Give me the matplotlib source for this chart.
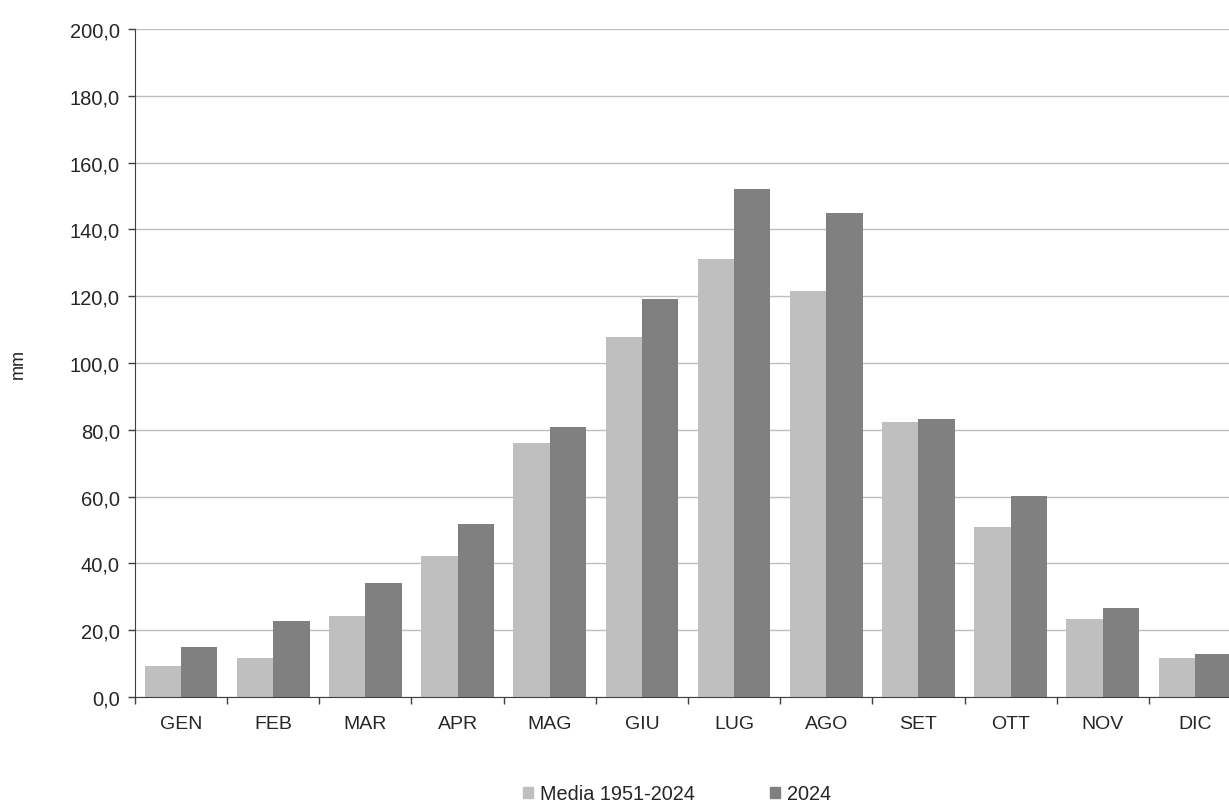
import matplotlib.pyplot as plt
from matplotlib.ticker import FuncFormatter, MultipleLocator
from matplotlib.patches import Patch
import numpy as np

plt.rcParams['font.family'] = ['Liberation Sans', 'DejaVu Sans']

# dati (mm)
mesi = ['GEN', 'FEB', 'MAR', 'APR', 'MAG', 'GIU', 'LUG', 'AGO', 'SET', 'OTT', 'NOV', 'DIC']
media = [9.4, 11.8, 24.3, 42.2, 76.0, 107.8, 131.0, 121.5, 82.3, 51.0, 23.5, 11.7]
anno_2024 = [15.0, 22.8, 34.2, 51.8, 80.8, 119.2, 152.2, 144.8, 83.2, 60.3, 26.5, 12.9]
etichette = ['Media 1951-2024', '2024']

col_media = '#bfbfbf'
col_2024 = '#808080'
col_testo = '#262626'

fig = plt.figure(figsize=(12.29, 8.04), dpi=100)
ax = fig.add_axes([135 / 1229, 1 - 698 / 804, 1106 / 1229, 668 / 804])

x = np.arange(len(mesi))
w = 0.395
ax.bar(x - w / 2, media, width=w, color=col_media, zorder=3)
ax.bar(x + w / 2, anno_2024, width=w, color=col_2024, zorder=3)

ax.set_xlim(-0.5, len(mesi) - 0.5)
ax.set_ylim(0, 200)
ax.yaxis.set_major_locator(MultipleLocator(20))
ax.yaxis.set_major_formatter(FuncFormatter(lambda v, p: f'{v:.1f}'.replace('.', ',')))
ax.grid(axis='y', color='#bebebe', linewidth=1, zorder=0)

# etichette al centro, tacche ai confini delle categorie
ax.set_xticks(x)
ax.set_xticklabels(mesi)
ax.set_xticks(np.arange(len(mesi) + 1) - 0.5, minor=True)
ax.tick_params(axis='x', which='major', length=0, pad=13, labelsize=14, labelcolor=col_testo)
ax.tick_params(axis='x', which='minor', length=5, width=1, color='#404040', direction='out')
ax.tick_params(axis='y', length=5, width=1, color='#404040', pad=6, labelsize=14.5, labelcolor=col_testo)

for s in ['top', 'right']:
    ax.spines[s].set_visible(False)
ax.spines['left'].set_color('#404040')
ax.spines['bottom'].set_color('#404040')
ax.spines['bottom'].set_zorder(4)

fig.text(18 / 1229, 1 - 364 / 804, 'mm', rotation=90, ha='center', va='center',
         fontsize=13, color=col_testo)

handles = [Patch(color=col_media), Patch(color=col_2024)]
fig.legend(handles, etichette, loc='center', bbox_to_anchor=(0.551, 1 - 795 / 804), ncol=2,
           frameon=False, fontsize=14.3, handlelength=0.5, handleheight=0.5,
           handletextpad=0.35, columnspacing=3.8, labelcolor=col_testo)

fig.savefig('out.png', dpi=100)
